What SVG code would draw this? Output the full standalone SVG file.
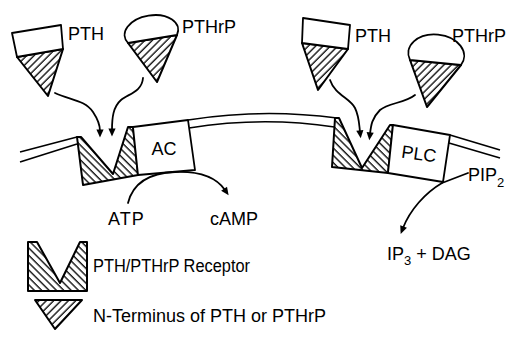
<svg xmlns="http://www.w3.org/2000/svg" width="507" height="339" viewBox="0 0 507 339">
  <defs>
    <!-- "\" hatch for the receptor -->
    <pattern id="hatchBack" patternUnits="userSpaceOnUse" width="5.2" height="5.2" patternTransform="rotate(-45)">
      <line x1="1" y1="-1" x2="1" y2="7" stroke="#000" stroke-width="1.3"/>
    </pattern>
    <!-- "/" hatch for the ligand N-terminus -->
    <pattern id="hatchFwd" patternUnits="userSpaceOnUse" width="5.2" height="5.2" patternTransform="rotate(45)">
      <line x1="1" y1="-1" x2="1" y2="7" stroke="#000" stroke-width="1.3"/>
    </pattern>
    <marker id="head" viewBox="0 0 10 10" refX="2" refY="5" markerWidth="9" markerHeight="8" markerUnits="userSpaceOnUse" orient="auto">
      <path d="M0,0.5 L10,5 L0,9.5 Z" fill="#000"/>
    </marker>
    <style>
      .shape { stroke: #000; stroke-width: 2; stroke-linejoin: round; }
      .box { fill: #fff; stroke: #000; stroke-width: 1.8; stroke-linejoin: round; }
      .mem { fill: none; stroke: #000; stroke-width: 1.6; }
      .flow { fill: none; stroke: #000; stroke-width: 1.8; stroke-linecap: round; }
      .lbl { font-family: "Liberation Sans", Arial, Helvetica, sans-serif; font-size: 18px; fill: #000; }
      .sub { font-family: "Liberation Sans", Arial, Helvetica, sans-serif; font-size: 13px; fill: #000; }
    </style>
  </defs>
  <rect width="507" height="339" fill="#fff"/>

  <!-- cell membrane -->
  <g id="membrane">
    <path class="mem" d="M20,152 L77,137"/>
    <path class="mem" d="M20,162 L77,144"/>
    <path class="mem" d="M188,120 Q262,108 337,118"/>
    <path class="mem" d="M189,128 Q262,116 334.5,127"/>
    <path class="mem" d="M450,135 L500,150"/>
    <path class="mem" d="M449,143 L500,158"/>
  </g>

  <!-- left ligands -->
  <g id="pth-left">
    <path class="shape" d="M17,57 L63,49 L48,96 Z" fill="url(#hatchFwd)"/>
    <path class="box" d="M12,33 L61,25 L63,49 L17,57 Z"/>
    <text class="lbl" x="68" y="40">PTH</text>
  </g>
  <g id="pthrp-left">
    <path class="shape" d="M128,43 L177,35 L157,82 Z" fill="url(#hatchFwd)"/>
    <path class="box" d="M128,43 A27,17 -9 1 1 177,35 Z"/>
    <text class="lbl" x="182" y="33">PTHrP</text>
  </g>

  <!-- right ligands -->
  <g id="pth-right">
    <path class="shape" d="M302,43 L348,49 L318,90 Z" fill="url(#hatchFwd)"/>
    <path class="box" d="M303,18 L350,25 L348,49 L302,43 Z"/>
    <text class="lbl" x="355" y="42">PTH</text>
  </g>
  <g id="pthrp-right">
    <path class="shape" d="M410,60 L461,65 L427,107 Z" fill="url(#hatchFwd)"/>
    <path class="box" d="M410,60 A28,20 6 1 1 461,65 Z"/>
    <text class="lbl" x="452" y="42">PTHrP</text>
  </g>

  <!-- receptor coupled to adenylate cyclase -->
  <g id="receptor-ac">
    <path class="shape" d="M77,137 L81,137 L113,174 L128,127 L133,127 L138,175 L83,185 Z" fill="url(#hatchBack)"/>
  </g>
  <g id="ac">
    <path class="box" d="M133,127 L188,120 L195,170 L138,175 Z"/>
    <text class="lbl" x="164" y="155" text-anchor="middle">AC</text>
  </g>

  <!-- receptor coupled to phospholipase C -->
  <g id="receptor-plc">
    <path class="shape" d="M335,118 L339,118 L362,168 L390,125 L393,125 L388,173 L332,167 Z" fill="url(#hatchBack)"/>
  </g>
  <g id="plc">
    <path class="box" d="M393,125 L450,135 L443,182 L388,173 Z"/>
    <text class="lbl" x="419" y="160" text-anchor="middle" font-size="19" transform="rotate(8 419 154)">PLC</text>
  </g>

  <!-- products -->
  <g id="atp"><text class="lbl" x="108" y="225" letter-spacing="1">ATP</text></g>
  <g id="camp"><text class="lbl" x="210" y="225">cAMP</text></g>
  <g id="pip2"><text class="lbl" x="468" y="181">PIP<tspan class="sub" dy="6">2</tspan></text></g>
  <g id="ip3-dag"><text class="lbl" x="387" y="260">IP<tspan class="sub" dy="5">3</tspan><tspan dy="-5"> + DAG</tspan></text></g>

  <!-- connectors -->
  <g id="connectors">
    <path class="flow" d="M55,93 C70,100 85,100 93,112 C99,121 100,126 100,131" marker-end="url(#head)"/>
    <path class="flow" d="M143,78 C142,92 128,94 121,100 C113,107 112,118 112,130" marker-end="url(#head)"/>
    <path class="flow" d="M330,80 C335,95 350,98 355,108 C359,116 359,123 360,132" marker-end="url(#head)"/>
    <path class="flow" d="M415,95 C405,103 388,103 380,110 C372,118 371,125 370,134" marker-end="url(#head)"/>
    <path class="flow" d="M128,203 C133,183 150,173 175,172 C200,171 216,177 225,190" marker-end="url(#head)"/>
    <path class="flow" d="M468,173 L442,183"/>
    <path class="flow" d="M442,183 C425,193 410,210 403,228" marker-end="url(#head)"/>
  </g>

  <!-- legend -->
  <g id="legend-receptor">
    <path class="shape" d="M28,242 L37,242 L60,283 L80,242 L87,242 L87,291 L28,291 Z" fill="url(#hatchBack)" stroke-width="2.5"/>
    <text class="lbl" x="93" y="272" textLength="157" lengthAdjust="spacingAndGlyphs">PTH/PTHrP Receptor</text>
  </g>
  <g id="legend-nterminus">
    <path class="shape" d="M35,300 L82,300 L55,329 Z" fill="url(#hatchFwd)"/>
    <text class="lbl" x="93" y="322">N-Terminus of PTH or PTHrP</text>
  </g>
</svg>
